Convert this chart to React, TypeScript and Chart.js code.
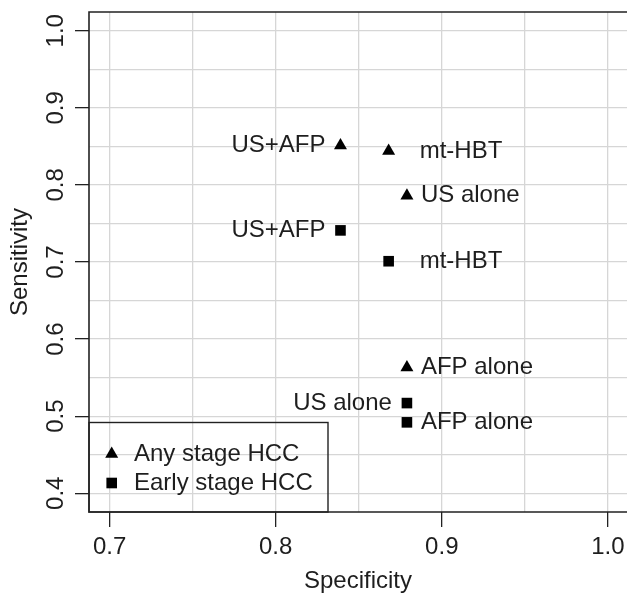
import React, { useEffect, useRef } from "react";
import { Chart, registerables } from "chart.js";

Chart.register(...registerables);

// ---- data ----
const pointNames = ["US+AFP", "mt-HBT", "US alone", "AFP alone"];
const anySpecificity = [0.839, 0.868, 0.879, 0.879];
const anySensitivity = [0.851, 0.844, 0.786, 0.563];
const earlySpecificity = [0.839, 0.868, 0.879, 0.879];
const earlySensitivity = [0.741, 0.701, 0.517, 0.492];
const seriesNames = ["Any stage HCC", "Early stage HCC"];

const xGridValues = [0.7, 0.75, 0.8, 0.85, 0.9, 0.95, 1.0];
const yGridValues = [0.4, 0.45, 0.5, 0.55, 0.6, 0.65, 0.7, 0.75, 0.8, 0.85, 0.9, 0.95, 1.0];
const xTickLabels = ["0.7", "0.8", "0.9", "1.0"];
const yTickLabels = ["0.4", "0.5", "0.6", "0.7", "0.8", "0.9", "1.0"];

// label placement (style): side of the point and gap in px
const anyLabelSides = ["left", "right", "right", "right"];
const anyLabelGaps = [15, 31, 14, 14];
const earlyLabelSides = ["left", "right", "left", "right"];
const earlyLabelGaps = [15, 31, 15, 14];

const FONT = "'Liberation Sans', Arial, Helvetica, sans-serif";
const FS = 24;
const TEXT = "#1e1e1e";
const GRID = "#d6d6d6";
const R = 7.5;

const labelFor = (v: number, labels: string[]) => {
  const s = (Math.round(v * 100) / 100).toFixed(1);
  return labels.includes(s) && Math.abs(v * 10 - Math.round(v * 10)) < 1e-6 ? s : "";
};

function drawTri(ctx: CanvasRenderingContext2D, x: number, y: number, r: number) {
  ctx.beginPath();
  ctx.moveTo(x, y - r);
  ctx.lineTo(x + 0.866 * r, y + 0.5 * r);
  ctx.lineTo(x - 0.866 * r, y + 0.5 * r);
  ctx.closePath();
  ctx.fill();
}
function drawSq(ctx: CanvasRenderingContext2D, x: number, y: number, r: number) {
  const s = Math.SQRT1_2 * r;
  ctx.fillRect(x - s, y - s, 2 * s, 2 * s);
}

const pointLabels = {
  id: "pointLabels",
  afterDatasetsDraw(chart: any) {
    const ctx = chart.ctx as CanvasRenderingContext2D;
    ctx.save();
    ctx.font = `${FS}px ${FONT}`;
    ctx.fillStyle = TEXT;
    ctx.textBaseline = "middle";
    const sides = [anyLabelSides, earlyLabelSides];
    const gaps = [anyLabelGaps, earlyLabelGaps];
    chart.data.datasets.forEach((_ds: any, di: number) => {
      const meta = chart.getDatasetMeta(di);
      meta.data.forEach((el: any, i: number) => {
        const left = sides[di][i] === "left";
        ctx.textAlign = left ? "right" : "left";
        ctx.fillText(pointNames[i], el.x + (left ? -gaps[di][i] : gaps[di][i]), el.y);
      });
    });
    ctx.restore();
  },
};

const frameAndLegend = {
  id: "frameAndLegend",
  afterDraw(chart: any) {
    const ctx = chart.ctx as CanvasRenderingContext2D;
    const { left, top, bottom } = chart.chartArea;
    const W = chart.width;
    ctx.save();
    ctx.strokeStyle = "#222";
    ctx.lineWidth = 1.6;
    ctx.beginPath();
    ctx.moveTo(W + 2, top);
    ctx.lineTo(left, top);
    ctx.lineTo(left, bottom);
    ctx.lineTo(W + 2, bottom);
    ctx.stroke();
    // legend
    const lw = 239;
    const lh = 89.5;
    ctx.lineWidth = 1.4;
    ctx.strokeRect(left, bottom - lh, lw, lh);
    ctx.fillStyle = "#000";
    const rows = [bottom - 58, bottom - 29];
    drawTri(ctx, left + 22.7, rows[0], R);
    drawSq(ctx, left + 22.7, rows[1], R);
    ctx.fillStyle = TEXT;
    ctx.font = `${FS}px ${FONT}`;
    ctx.textAlign = "left";
    ctx.textBaseline = "middle";
    seriesNames.forEach((n, i) => ctx.fillText(n, left + 45, rows[i]));
    ctx.restore();
  },
};

export default function App() {
  const ref = useRef<HTMLCanvasElement>(null);
  useEffect(() => {
    if (!ref.current) return;
    Chart.defaults.font.family = FONT;
    Chart.defaults.font.size = FS;
    Chart.defaults.color = TEXT;
    const chart = new Chart(ref.current, {
      type: "scatter",
      data: {
        datasets: [
          {
            label: seriesNames[0],
            data: anySpecificity.map((x, i) => ({ x, y: anySensitivity[i] })),
            pointStyle: "triangle",
            pointRadius: R,
            pointBackgroundColor: "#000",
            pointBorderWidth: 0,
            borderColor: "#000",
            backgroundColor: "#000",
          },
          {
            label: seriesNames[1],
            data: earlySpecificity.map((x, i) => ({ x, y: earlySensitivity[i] })),
            pointStyle: "rect",
            pointRadius: R,
            pointBackgroundColor: "#000",
            pointBorderWidth: 0,
            borderColor: "#000",
            backgroundColor: "#000",
          },
        ],
      },
      options: {
        responsive: false,
        animation: false,
        devicePixelRatio: 1,
        layout: { autoPadding: false, padding: { top: 12, left: 0, right: 0, bottom: 0 } },
        plugins: { legend: { display: false }, tooltip: { enabled: false } },
        scales: {
          x: {
            type: "linear",
            min: 0.6876,
            max: 1.0115,
            afterBuildTicks: (s: any) => {
              s.ticks = xGridValues.map((v) => ({ value: v }));
            },
            afterFit: (s: any) => {
              s.height = 84;
              s.paddingLeft = 0;
              s.paddingRight = 0;
            },
            ticks: {
              autoSkip: false,
              maxRotation: 0,
              minRotation: 0,
              padding: 6,
              color: TEXT,
              font: { size: FS },
              callback: (v: any) => labelFor(Number(v), xTickLabels),
            },
            grid: {
              color: GRID,
              lineWidth: 1.3,
              tickLength: 15,
              tickWidth: 1.3,
              tickColor: (c: any) => (labelFor(c.tick?.value ?? 0, xTickLabels) ? "#222" : "rgba(0,0,0,0)"),
            },
            border: { display: false },
            title: {
              display: true,
              text: "Specificity",
              color: TEXT,
              font: { size: FS },
              padding: { top: 0, bottom: 0 },
            },
          },
          y: {
            type: "linear",
            min: 0.3757,
            max: 1.0243,
            afterBuildTicks: (s: any) => {
              s.ticks = yGridValues.map((v) => ({ value: v }));
            },
            afterFit: (s: any) => {
              s.width = 89;
              s.paddingTop = 0;
              s.paddingBottom = 0;
            },
            ticks: {
              autoSkip: false,
              minRotation: 90,
              maxRotation: 90,
              crossAlign: "center",
              padding: 2,
              color: TEXT,
              font: { size: FS },
              callback: (v: any) => labelFor(Number(v), yTickLabels),
            },
            grid: {
              color: GRID,
              lineWidth: 1.3,
              tickLength: 14,
              tickWidth: 1.3,
              tickColor: (c: any) => (labelFor(c.tick?.value ?? 0, yTickLabels) ? "#222" : "rgba(0,0,0,0)"),
            },
            border: { display: false },
            title: {
              display: true,
              text: "Sensitivity",
              color: TEXT,
              font: { size: FS },
              padding: { top: 5.6, bottom: 0 },
            },
          },
        },
      },
      plugins: [pointLabels, frameAndLegend],
    } as any);
    return () => chart.destroy();
  }, []);
  return (
    <div style={{ position: "absolute", left: 0, top: 0, width: 627, height: 596, overflow: "hidden", background: "#fff" }}>
      <canvas ref={ref} width={627} height={596} style={{ display: "block" }} />
    </div>
  );
}
